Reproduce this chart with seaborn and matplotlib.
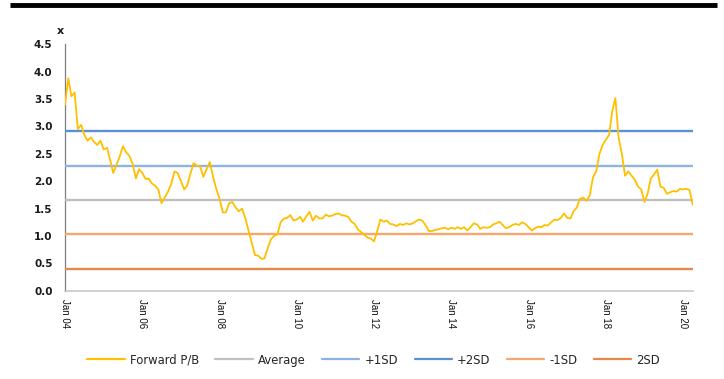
import matplotlib
matplotlib.use("Agg")
import matplotlib.pyplot as plt
import matplotlib.dates as mdates
import numpy as np
import pandas as pd
import seaborn as sns

# Monthly forward price-to-book multiple, Jan 2004 onwards
pb_2004 = [3.40, 3.88, 3.55, 3.62, 2.95, 3.03, 2.85, 2.74, 2.80, 2.72, 2.66, 2.74]
pb_2005 = [2.58, 2.61, 2.40, 2.15, 2.30, 2.45, 2.64, 2.53, 2.46, 2.32, 2.05, 2.22]
pb_2006 = [2.15, 2.04, 2.05, 1.96, 1.92, 1.85, 1.60, 1.70, 1.81, 1.95, 2.18, 2.15]
pb_2007 = [2.00, 1.85, 1.92, 2.14, 2.33, 2.28, 2.27, 2.08, 2.22, 2.35, 2.08, 1.86]
pb_2008 = [1.68, 1.43, 1.43, 1.60, 1.62, 1.52, 1.45, 1.50, 1.32, 1.10, 0.88, 0.65]
pb_2009 = [0.64, 0.58, 0.59, 0.78, 0.94, 1.00, 1.03, 1.25, 1.32, 1.33, 1.38, 1.28]
pb_2010 = [1.30, 1.35, 1.26, 1.36, 1.44, 1.28, 1.37, 1.32, 1.32, 1.39, 1.36, 1.37]
pb_2011 = [1.40, 1.41, 1.38, 1.37, 1.35, 1.26, 1.22, 1.12, 1.07, 1.02, 0.97, 0.95]
pb_2012 = [0.90, 1.10, 1.30, 1.26, 1.28, 1.22, 1.21, 1.18, 1.22, 1.20, 1.23, 1.21]
pb_2013 = [1.23, 1.27, 1.30, 1.28, 1.20, 1.09, 1.09, 1.11, 1.12, 1.14, 1.15, 1.12]
pb_2014 = [1.15, 1.13, 1.16, 1.13, 1.16, 1.10, 1.16, 1.23, 1.21, 1.13, 1.16, 1.15]
pb_2015 = [1.16, 1.21, 1.23, 1.26, 1.20, 1.14, 1.16, 1.20, 1.22, 1.20, 1.25, 1.22]
pb_2016 = [1.16, 1.10, 1.14, 1.17, 1.16, 1.20, 1.19, 1.25, 1.30, 1.29, 1.33, 1.41]
pb_2017 = [1.33, 1.32, 1.45, 1.52, 1.68, 1.70, 1.64, 1.74, 2.07, 2.18, 2.50, 2.66]
pb_2018 = [2.76, 2.85, 3.27, 3.52, 2.80, 2.50, 2.10, 2.18, 2.10, 2.03, 1.90, 1.85]
pb_2019 = [1.62, 1.78, 2.05, 2.12, 2.21, 1.90, 1.88, 1.77, 1.80, 1.82, 1.81, 1.86]
pb_2020 = [1.85, 1.86, 1.84, 1.57]

pb_values = (pb_2004 + pb_2005 + pb_2006 + pb_2007 + pb_2008 + pb_2009 +
             pb_2010 + pb_2011 + pb_2012 + pb_2013 + pb_2014 + pb_2015 +
             pb_2016 + pb_2017 + pb_2018 + pb_2019 + pb_2020)
dates = pd.date_range("2004-01-01", periods=len(pb_values), freq="MS")

# Long-run average and standard-deviation bands
band_labels = ["Average", "+1SD", "+2SD", "-1SD", "2SD"]
band_values = [1.66, 2.28, 2.91, 1.03, 0.40]
band_colors = ["#BFBFBF", "#8DB3E2", "#5B8FD6", "#F5A86E", "#E4894A"]

y_ticks = [0.0, 0.5, 1.0, 1.5, 2.0, 2.5, 3.0, 3.5, 4.0, 4.5]
x_tick_years = list(range(2004, 2021, 2))

sns.set_style("white")
plt.rcParams["font.family"] = ["DejaVu Sans"]

fig = plt.figure(figsize=(7.24, 3.79), dpi=100)
ax = fig.add_axes([0.0898, 0.233, 0.867, 0.650])

df = pd.DataFrame({"date": dates, "pb": pb_values})
sns.lineplot(data=df, x="date", y="pb", ax=ax, color="#FFC000",
             linewidth=1.3, label="Forward P/B", zorder=5)

for lab, val, col in zip(band_labels, band_values, band_colors):
    ax.axhline(val, color=col, linewidth=1.7, label=lab, zorder=3)

ax.set_xlim(pd.Timestamp("2004-01-01"), pd.Timestamp("2020-04-01"))
ax.set_ylim(0, 4.5)
ax.set_yticks(y_ticks)
ax.set_yticklabels([f"{t:.1f}" for t in y_ticks], fontsize=7.5,
                   fontweight="bold", color="#1a1a1a")
ax.set_xticks([pd.Timestamp(f"{y}-01-01") for y in x_tick_years])
ax.xaxis.set_major_formatter(mdates.DateFormatter("Jan %y"))
for lbl in ax.get_xticklabels():
    lbl.set_rotation(-90)
    lbl.set_fontsize(7)
    lbl.set_family(["Liberation Sans", "DejaVu Sans"])
    lbl.set_color("#111111")
    lbl.set_va("top")
    lbl.set_ha("center")

ax.set_xlabel("")
ax.set_ylabel("")
ax.tick_params(axis="y", direction="out", length=3, width=0.8,
               color="#A0A0A0", pad=6)
ax.tick_params(axis="x", direction="out", length=3, width=0.8,
               color="#BFBFBF", pad=3)

for side in ["top", "right"]:
    ax.spines[side].set_visible(False)
ax.spines["left"].set_color("#7F7F7F")
ax.spines["left"].set_linewidth(0.9)
ax.spines["bottom"].set_color("#C8C8C8")
ax.spines["bottom"].set_linewidth(1.2)

# unit marker above the value axis
fig.text(0.083, 0.905, "x", fontsize=8, fontweight="bold", color="#1a1a1a",
         ha="center", va="bottom")

# heavy rule across the top of the figure
fig.add_artist(plt.Line2D([0.014, 0.99], [0.988, 0.988], color="black",
                          linewidth=3.5, solid_capstyle="butt",
                          transform=fig.transFigure))

handles, labels = ax.get_legend_handles_labels()
leg = fig.legend(handles, labels, loc="center", ncol=6,
                 bbox_to_anchor=(0.516, 0.05), frameon=False, fontsize=8.4,
                 handlelength=3.2, handletextpad=0.45, columnspacing=1.4)
for line in leg.get_lines():
    line.set_linewidth(1.6)
if ax.get_legend():
    ax.get_legend().remove()

fig.savefig("out.png", dpi=100)
